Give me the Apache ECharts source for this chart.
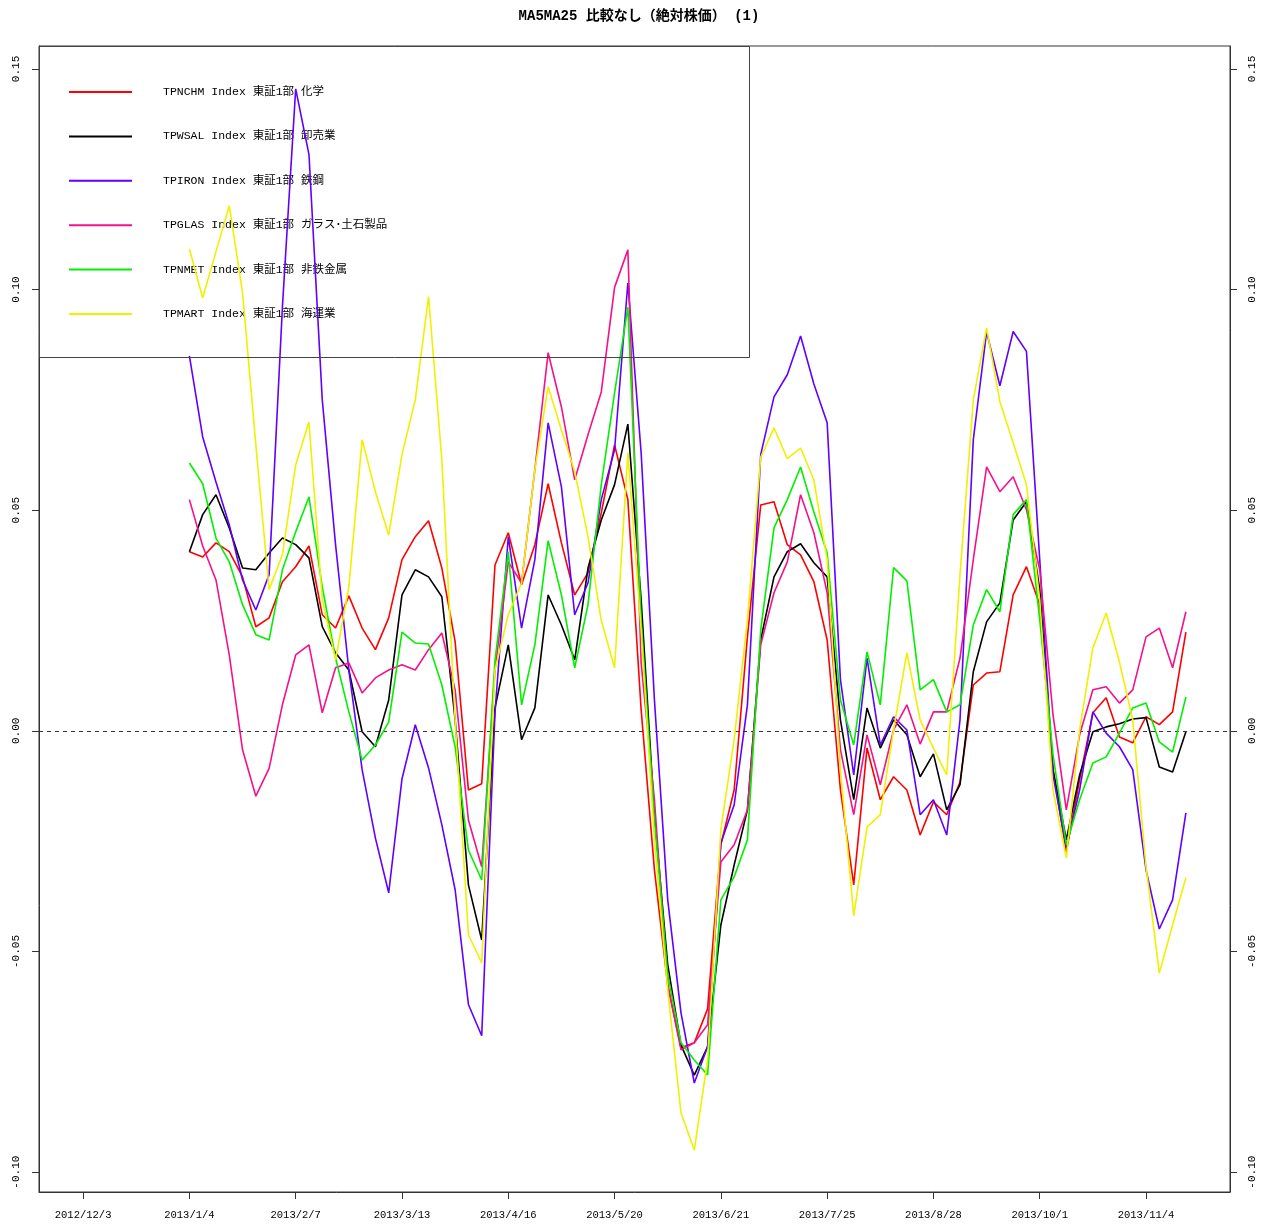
<!DOCTYPE html>
<html>
<head>
<meta charset="utf-8">
<script src="https://cdn.jsdelivr.net/npm/echarts@6/dist/echarts.min.js"></script>
<style>
html,body{margin:0;padding:0;background:#fff;}
#chart{width:1278px;height:1229px;}
</style>
</head>
<body>
<div id="chart"></div>
<script>
// ---- data ----
const titleText = 'MA5MA25 比較なし（絶対株価） (1)';
const tickIndex = [0, 24, 48, 72, 96, 120, 144, 168, 192, 216, 240];
const tickLabels = ['2012/12/3', '2013/1/4', '2013/2/7', '2013/3/13', '2013/4/16', '2013/5/20', '2013/6/21', '2013/7/25', '2013/8/28', '2013/10/1', '2013/11/4'];
const yTicks = [-0.10, -0.05, 0.00, 0.05, 0.10, 0.15];
const dayIndex = [24, 27, 30, 33, 36, 39, 42, 45, 48, 51, 54, 57, 60, 63, 66, 69, 72, 75, 78, 81, 84, 87, 90, 93, 96, 99, 102, 105, 108, 111, 114, 117, 120, 123, 126, 129, 132, 135, 138, 141, 144, 147, 150, 153, 156, 159, 162, 165, 168, 171, 174, 177, 180, 183, 186, 189, 192, 195, 198, 201, 204, 207, 210, 213, 216, 219, 222, 225, 228, 231, 234, 237, 240, 243, 246, 249];

const seriesNames = ['TPNCHM Index 東証1部 化学', 'TPWSAL Index 東証1部 卸売業', 'TPIRON Index 東証1部 鉄鋼', 'TPGLAS Index 東証1部 ガラス･土石製品', 'TPNMET Index 東証1部 非鉄金属', 'TPMART Index 東証1部 海運業'];
const seriesColors = ['#FF0000', '#000000', '#6000FF', '#F5108C', '#00F000', '#F0F000'];

const tpnchm = [0.0406, 0.0394, 0.0426, 0.0406, 0.0349, 0.0236, 0.0256, 0.0338, 0.0372, 0.0419, 0.0263, 0.0233, 0.0306, 0.0233, 0.0184, 0.0256, 0.0388, 0.0440, 0.0476, 0.0369, 0.0202, -0.0134, -0.0120, 0.0376, 0.0449, 0.0331, 0.0422, 0.0560, 0.0426, 0.0308, 0.0358, 0.0494, 0.0648, 0.0524, 0.0048, -0.0315, -0.0576, -0.0718, -0.0707, -0.0630, -0.0258, -0.0134, 0.0213, 0.0512, 0.0519, 0.0422, 0.0399, 0.0338, 0.0206, -0.0134, -0.0349, -0.0039, -0.0156, -0.0104, -0.0134, -0.0236, -0.0161, -0.0190, -0.0116, 0.0104, 0.0131, 0.0134, 0.0308, 0.0372, 0.0286, -0.0088, -0.0274, -0.0111, 0.0041, 0.0075, -0.0014, -0.0027, 0.0032, 0.0014, 0.0043, 0.0224];
const tpwsal = [0.0406, 0.0490, 0.0535, 0.0460, 0.0369, 0.0365, 0.0403, 0.0437, 0.0422, 0.0392, 0.0236, 0.0177, 0.0138, -0.0002, -0.0036, 0.0070, 0.0308, 0.0365, 0.0349, 0.0304, 0.0025, -0.0349, -0.0474, 0.0052, 0.0195, -0.0020, 0.0052, 0.0308, 0.0240, 0.0161, 0.0369, 0.0478, 0.0558, 0.0695, 0.0297, -0.0190, -0.0530, -0.0712, -0.0780, -0.0716, -0.0440, -0.0304, -0.0179, 0.0206, 0.0349, 0.0406, 0.0424, 0.0381, 0.0349, 0.0025, -0.0156, 0.0052, -0.0039, 0.0025, -0.0009, -0.0104, -0.0052, -0.0179, -0.0122, 0.0134, 0.0247, 0.0290, 0.0478, 0.0519, 0.0320, -0.0088, -0.0247, -0.0100, -0.0002, 0.0009, 0.0016, 0.0027, 0.0030, -0.0082, -0.0093, -0.0002];
const tpiron = [0.0850, 0.0666, 0.0564, 0.0467, 0.0342, 0.0274, 0.0354, 0.0960, 0.1455, 0.1306, 0.0750, 0.0422, 0.0138, -0.0088, -0.0243, -0.0367, -0.0109, 0.0014, -0.0084, -0.0213, -0.0360, -0.0620, -0.0691, 0.0041, 0.0440, 0.0233, 0.0388, 0.0698, 0.0553, 0.0263, 0.0335, 0.0524, 0.0637, 0.1015, 0.0630, 0.0070, -0.0383, -0.0639, -0.0798, -0.0716, -0.0254, -0.0168, 0.0059, 0.0626, 0.0757, 0.0807, 0.0895, 0.0786, 0.0698, 0.0116, -0.0100, 0.0165, -0.0032, 0.0032, 0.0002, -0.0190, -0.0156, -0.0236, 0.0025, 0.0660, 0.0904, 0.0782, 0.0905, 0.0860, 0.0388, -0.0100, -0.0265, -0.0134, 0.0043, -0.0005, -0.0036, -0.0088, -0.0315, -0.0449, -0.0383, -0.0186];
const tpglas = [0.0524, 0.0419, 0.0342, 0.0172, -0.0043, -0.0148, -0.0085, 0.0059, 0.0172, 0.0195, 0.0041, 0.0143, 0.0154, 0.0086, 0.0120, 0.0138, 0.0150, 0.0138, 0.0184, 0.0222, 0.0093, -0.0202, -0.0308, 0.0138, 0.0383, 0.0335, 0.0592, 0.0857, 0.0734, 0.0569, 0.0671, 0.0768, 0.1005, 0.1090, 0.0154, -0.0156, -0.0576, -0.0723, -0.0707, -0.0666, -0.0297, -0.0258, -0.0179, 0.0195, 0.0313, 0.0383, 0.0535, 0.0449, 0.0313, -0.0043, -0.0190, -0.0009, -0.0122, 0.0002, 0.0059, -0.0030, 0.0043, 0.0043, 0.0165, 0.0388, 0.0598, 0.0542, 0.0576, 0.0501, 0.0365, 0.0036, -0.0179, -0.0009, 0.0093, 0.0100, 0.0063, 0.0093, 0.0213, 0.0233, 0.0143, 0.0270];
const tpnmet = [0.0607, 0.0560, 0.0437, 0.0383, 0.0286, 0.0218, 0.0206, 0.0365, 0.0451, 0.0530, 0.0326, 0.0165, 0.0043, -0.0066, -0.0032, 0.0020, 0.0224, 0.0199, 0.0197, 0.0104, -0.0036, -0.0270, -0.0338, 0.0160, 0.0406, 0.0059, 0.0195, 0.0431, 0.0308, 0.0143, 0.0286, 0.0558, 0.0766, 0.0960, 0.0252, -0.0202, -0.0553, -0.0707, -0.0746, -0.0780, -0.0383, -0.0331, -0.0247, 0.0229, 0.0460, 0.0524, 0.0598, 0.0496, 0.0403, 0.0070, -0.0032, 0.0179, 0.0059, 0.0370, 0.0340, 0.0093, 0.0116, 0.0043, 0.0059, 0.0240, 0.0320, 0.0270, 0.0490, 0.0524, 0.0252, -0.0054, -0.0258, -0.0156, -0.0073, -0.0059, -0.0005, 0.0052, 0.0063, -0.0025, -0.0048, 0.0077];
const tpmart = [0.1092, 0.0981, 0.1086, 0.1190, 0.0993, 0.0648, 0.0320, 0.0399, 0.0603, 0.0700, 0.0297, 0.0161, 0.0326, 0.0660, 0.0542, 0.0444, 0.0626, 0.0750, 0.0984, 0.0614, 0.0025, -0.0462, -0.0526, 0.0138, 0.0263, 0.0335, 0.0592, 0.0780, 0.0682, 0.0587, 0.0440, 0.0250, 0.0143, 0.0630, 0.0229, -0.0247, -0.0587, -0.0866, -0.0950, -0.0746, -0.0224, -0.0020, 0.0252, 0.0620, 0.0687, 0.0617, 0.0641, 0.0569, 0.0388, -0.0088, -0.0419, -0.0218, -0.0190, 0.0002, 0.0177, 0.0025, -0.0039, -0.0100, 0.0354, 0.0750, 0.0913, 0.0746, 0.0653, 0.0558, 0.0297, -0.0134, -0.0288, 0.0002, 0.0188, 0.0267, 0.0156, 0.0025, -0.0308, -0.0549, -0.0440, -0.0333];

const seriesValues = [tpnchm, tpwsal, tpiron, tpglas, tpnmet, tpmart];

// ---- chart ----
const MONO = "'Liberation Mono', 'Noto Sans CJK JP', monospace";
const labelOf = {};
tickIndex.forEach((t, i) => { labelOf[t] = tickLabels[i]; });

const series = seriesValues.map((vals, si) => ({
  name: seriesNames[si],
  type: 'line',
  data: vals.map((v, i) => [dayIndex[i], v]),
  showSymbol: false,
  symbol: 'none',
  lineStyle: { width: 1.6, color: seriesColors[si] },
  itemStyle: { color: seriesColors[si] },
  z: 2 + si,
  markLine: si === 0 ? {
    silent: true,
    symbol: ['none', 'none'],
    label: { show: false },
    lineStyle: { type: [4, 4], color: '#333', width: 1 },
    data: [{ yAxis: 0 }]
  } : undefined
}));

const yAxisCommon = {
  type: 'value',
  min: -0.1045,
  max: 0.1552,
  splitLine: { show: false },
  axisLine: { show: true, onZero: false, lineStyle: { color: '#333' } },
  axisTick: { show: true, customValues: yTicks, length: 7, lineStyle: { color: '#333' } },
  axisLabel: {
    customValues: yTicks,
    rotate: 90,
    margin: 17,
    fontFamily: MONO,
    fontSize: 11,
    color: '#000',
    formatter: v => v.toFixed(2)
  }
};

const option = {
  animation: false,
  backgroundColor: '#fff',
  color: seriesColors,
  title: {
    text: titleText,
    left: 'center',
    top: 9,
    padding: 0,
    textStyle: { fontFamily: MONO, fontSize: 14, fontWeight: 'bold', color: '#000' }
  },
  grid: {
    left: 39, right: 48, top: 46, bottom: 37,
    show: true, borderColor: '#333', borderWidth: 1, backgroundColor: 'transparent',
    containLabel: false
  },
  legend: {
    orient: 'vertical',
    left: 69,
    top: 85,
    padding: 0,
    itemWidth: 63,
    itemHeight: 2,
    itemGap: 30.4,
    icon: 'rect',
    selectedMode: false,
    data: seriesNames,
    textStyle: { fontFamily: MONO, fontSize: 11.5, color: '#000', lineHeight: 14, padding: [0, 0, 0, 26] }
  },
  graphic: [{
    type: 'rect',
    shape: { x: 39.5, y: 46.5, width: 710, height: 311 },
    style: { fill: 'none', stroke: '#444', lineWidth: 1 },
    z: 10,
    silent: true
  }],
  xAxis: {
    type: 'value',
    min: -9.96,
    max: 258.96,
    splitLine: { show: false },
    axisLine: { show: true, onZero: false, lineStyle: { color: '#333' } },
    axisTick: { show: true, customValues: tickIndex, length: 7, lineStyle: { color: '#333' } },
    axisLabel: {
      customValues: tickIndex,
      margin: 18,
      fontFamily: MONO,
      fontSize: 10.5,
      color: '#000',
      formatter: v => labelOf[v] || ''
    }
  },
  yAxis: [
    Object.assign({}, yAxisCommon, { position: 'left' }),
    Object.assign({}, yAxisCommon, { position: 'right' })
  ],
  series: series
};

const chart = echarts.init(document.getElementById('chart'), null, { renderer: 'canvas' });
chart.setOption(option);
</script>
</body>
</html>
